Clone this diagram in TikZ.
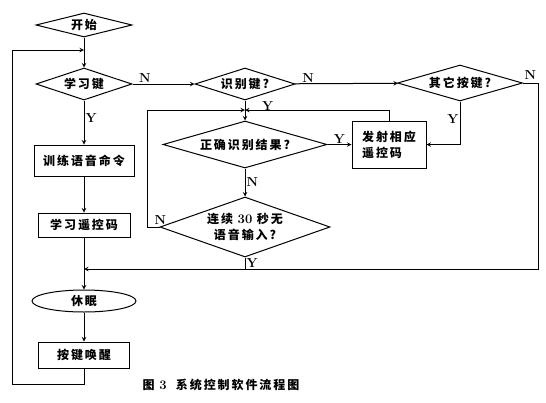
\documentclass[tikz,border=0pt]{standalone}
\usepackage{fontspec}
\newfontfamily\cjk[LetterSpace=16]{Noto Sans CJK SC}
\usetikzlibrary{shapes.geometric,positioning}
\tikzset{
  box/.style={draw,line width=1pt,rectangle,inner sep=0pt,font=\fontsize{12}{16}\cjk\bfseries},
  ask/.style={draw,line width=1pt,diamond,inner sep=0pt,aspect=3,font=\fontsize{12}{16}\cjk\bfseries},
  yn/.style={font=\bfseries\fontsize{13}{13}\selectfont,inner sep=1pt},
  line/.style={line width=1pt,->,>=stealth},
}
\begin{document}
\begin{tikzpicture}[x=1pt,y=-1pt]
    \useasboundingbox (0,0) rectangle (546,402);
    % left column
    \node[ask,minimum width=96pt,minimum height=24pt] (start) at (84,25) {开始};
    \node[ask,minimum width=96pt,minimum height=32pt] (learn) at (84,84) {学习键};
    \node[box,minimum width=100pt,minimum height=31pt] (train) at (84,160.5) {训练语音命令};
    \node[box,minimum width=92pt,minimum height=24pt] (study) at (84,225) {学习遥控码};
    \node[draw,line width=1pt,ellipse,inner sep=0pt,minimum width=104pt,minimum height=22pt,font=\fontsize{12}{16}\cjk\bfseries] (sleep) at (84,301) {休眠};
    \node[box,minimum width=91pt,minimum height=26pt] (wake) at (84,355) {按键唤醒};
    % right part
    \node[ask,minimum width=100pt,minimum height=32pt] (recog) at (245,84) {识别键?};
    \node[ask,minimum width=125pt,minimum height=36pt] (other) at (460,83) {其它按键?};
    \node[ask,aspect=3.5,minimum width=164pt,minimum height=47pt] (correct) at (245,144.5) {正确识别结果?};
    \node[box,align=left,minimum width=74pt,minimum height=47pt] (send) at (389,144.5) {发射相应\\遥控码};
    \node[ask,aspect=2.8,align=center,minimum width=170pt,minimum height=60pt] (silent) at (245,227) {连续 {\rmfamily\fontsize{13}{16}\selectfont 30} 秒无\\语音输入?};
    \node[font=\fontsize{12}{16}\cjk\bfseries] (cap) at (221,385) {图 {\rmfamily\fontsize{13}{16}\selectfont 3}\ \ 系统控制软件流程图};

    \coordinate (join) at (84,50);
    \coordinate (merge) at (245,110);
    \coordinate (back) at (84,269);

    \draw[line] (start) -- (learn);
    \draw[line] (learn) -- node[yn,above,pos=0.2]{N} (recog);
    \draw[line] (learn) -- node[yn,right,pos=0.4]{Y} (train);
    \draw[line] (train) -- (study);
    \draw[line] (study) -- (sleep);
    \draw[line] (sleep) -- (wake);
    \draw[line] (wake.south) |- (12,384) -- (12,50) -- (join);

    \draw[line] (recog) -- node[yn,above,pos=0.13]{N} (other);
    \draw[line] (recog) -- (correct);
    \node[yn,below right=0pt and 16pt] at (recog.south) {Y};
    \draw[line] (correct) -- node[yn,above]{Y} (send);
    \draw[line] (correct) -- node[yn,right]{N} (silent);
    \draw[line] (silent.west) node[yn,above left=1pt and -8pt]{N} -- (147,227) |- (merge);
    \draw[line] (send.north) |- (merge);
    \draw[line] (other.south) |- node[yn,left,pos=0.2]{Y} (send.east);
    \draw[line] (other.east) node[yn,above right=2pt and 0pt]{N} -| (538,269) -- (back);
    \draw[line width=1pt] (silent.south) -- node[yn,right]{Y} (silent.south |- back);
\end{tikzpicture}
\end{document}
